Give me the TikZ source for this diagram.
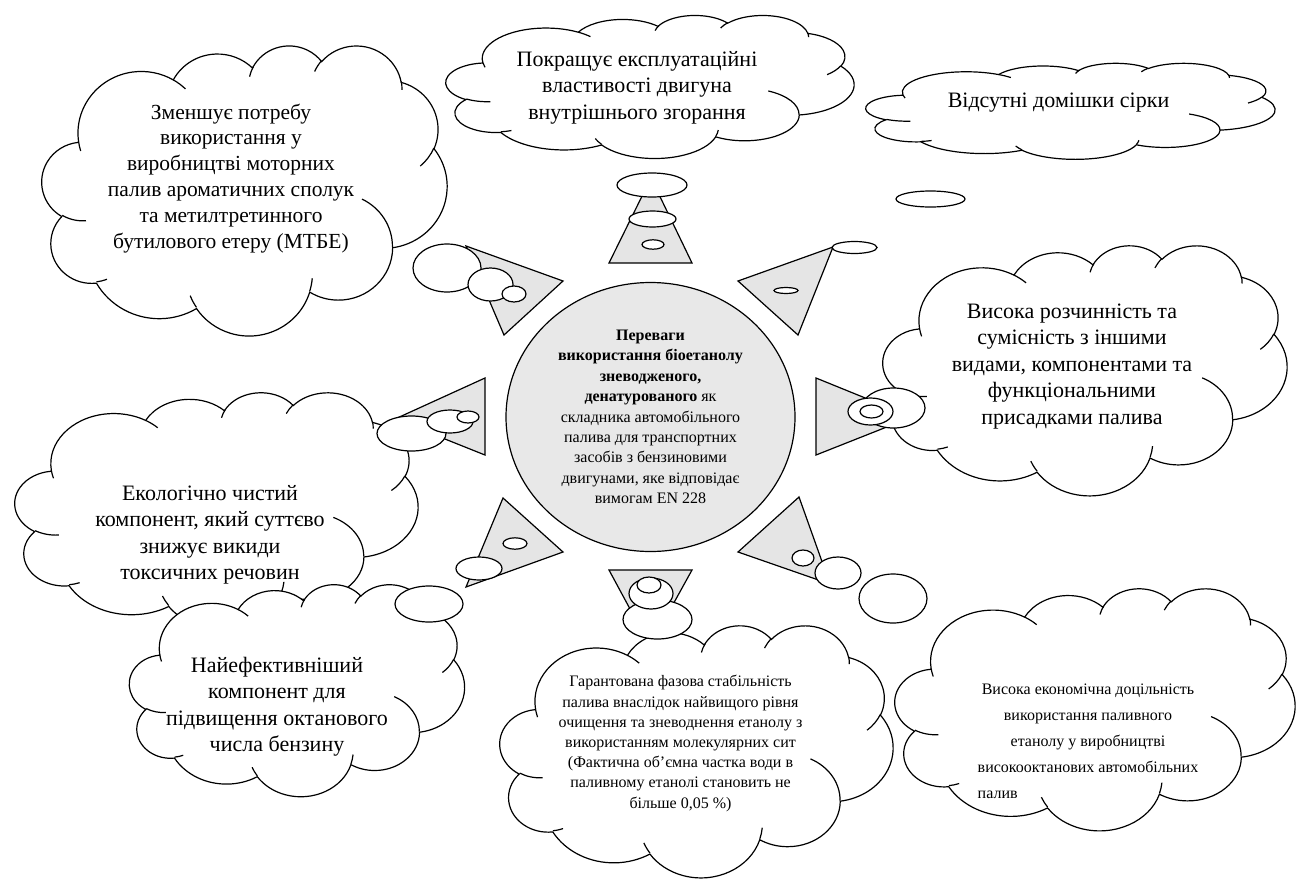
\documentclass[tikz,border=0pt]{standalone}
\usepackage{fontspec}
\setmainfont{Liberation Serif}
\usetikzlibrary{positioning,shapes.geometric}
\tikzset{x=1pt,y=-1pt}
\tikzset{
  cloudline/.style={line width=1.2pt},
  bubble/.style={draw,line width=1.2pt,fill=white},
  wedge/.style={draw,line width=1.2pt,fill=black!10,line join=miter},
  hub/.style={ellipse,draw,line width=1.2pt,fill=black!9,inner sep=0pt,
    minimum width=289pt,minimum height=269pt,align=center,
    font=\rmfamily\fontsize{16}{20.4}\selectfont},
  bigtext/.style={align=center,anchor=base,font=\rmfamily\fontsize{22}{26.5}\selectfont},
  smalltext/.style={align=center,anchor=base,font=\rmfamily\fontsize{16}{20.2}\selectfont},
  wcloud/.pic={
    \begin{scope}[shift={(-21.6,-21.6)}]
      \draw[cloudline,fill=white] (3.900,14.370)
        arc[start angle=172.25,delta angle=128.11,x radius=6.753,y radius=9.190]
        arc[start angle=-152.02,delta angle=106.56,x radius=5.333,y radius=7.267]
        arc[start angle=-153.49,delta angle=116.15,x radius=4.365,y radius=5.945]
        arc[start angle=-139.72,delta angle=129.51,x radius=4.857,y radius=6.595]
        arc[start angle=-74.77,delta angle=97.98,x radius=5.333,y radius=7.273]
        arc[start angle=-37.53,delta angle=119.39,x radius=6.775,y radius=9.220]
        arc[start angle=0.46,delta angle=121.52,x radius=5.785,y radius=7.867]
        arc[start angle=16.84,delta angle=129.38,x radius=6.752,y radius=9.215]
        arc[start angle=58.98,delta angle=91.20,x radius=7.720,y radius=10.543]
        arc[start angle=83.31,delta angle=139.78,x radius=4.360,y radius=5.918]
        arc[start angle=120.36,delta angle=143.75,x radius=4.345,y radius=5.945]
        -- cycle;
      \draw[cloudline]
        (4.693,26.177) arc[start angle=85.55,delta angle=34.81,x radius=4.345,y radius=5.945]
        (6.928,34.899) arc[start angle=68.23,delta angle=15.08,x radius=4.360,y radius=5.918]
        (16.478,39.090) arc[start angle=146.22,delta angle=12.25,x radius=6.752,y radius=9.215]
        (28.827,34.751) arc[start angle=4.74,delta angle=12.10,x radius=6.752,y radius=9.215]
        (34.129,22.954) arc[start angle=-64.03,delta angle=64.49,x radius=5.785,y radius=7.867]
        (41.798,15.354) arc[start angle=23.21,delta angle=26.44,x radius=5.333,y radius=7.273]
        (38.324,5.426) arc[start angle=-10.21,delta angle=11.03,x radius=4.857,y radius=6.595]
        (29.078,3.952) arc[start angle=-156.28,delta angle=16.56,x radius=4.857,y radius=6.595]
        (22.141,4.720) arc[start angle=-167.73,delta angle=15.38,x radius=4.365,y radius=5.945]
        (14.000,5.192) arc[start angle=-59.64,delta angle=13.90,x radius=6.753,y radius=9.190]
        (4.127,15.789) arc[start angle=163.19,delta angle=9.06,x radius=6.753,y radius=9.190];
    \end{scope}
  }
}

\begin{document}
\begin{tikzpicture}
  \useasboundingbox (0,0) rectangle (1303,881);

  \draw[wedge] (609,263) -- (692,263) -- (651,178) -- cycle;
  \draw[wedge] (466,246) -- (563,281) -- (504,335) -- cycle;
  \draw[wedge] (738,281) -- (833,247) -- (798,335) -- cycle;
  \draw[wedge] (485,378) -- (485,455) -- (395,419) -- cycle;
  \draw[wedge] (816,378) -- (816,455) -- (912,417) -- cycle;
  \draw[wedge] (503,498) -- (563,552) -- (466,587) -- cycle;
  \draw[wedge] (738,552) -- (799,497) -- (830,584) -- cycle;
  \draw[wedge] (609,570) -- (692,570) -- (650,646) -- cycle;

  \pic[xscale=408/43.2,yscale=143/43.2] (cloudA) at (650,86.5) {wcloud};
  \pic[xscale=409/43.2,yscale=96/43.2] (cloudB) at (1070.5,111) {wcloud};
  \pic[xscale=405/43.2,yscale=290/43.2] (cloudC) at (244.5,190) {wcloud};
  \pic[xscale=404/43.2,yscale=250/43.2] (cloudD) at (1085,370) {wcloud};
  \pic[xscale=403/43.2,yscale=236/43.2] (cloudE) at (216.5,510) {wcloud};
  \pic[xscale=335/43.2,yscale=212/43.2] (cloudF) at (297,690) {wcloud};
  \pic[xscale=393/43.2,yscale=252/43.2] (cloudG) at (696.5,751) {wcloud};
  \pic[xscale=400/43.2,yscale=242/43.2] (cloudH) at (1095,709) {wcloud};

  \draw[bubble] (652,185) ellipse [x radius=35,y radius=12];
  \draw[bubble] (652.5,219) ellipse [x radius=23.5,y radius=8];
  \draw[bubble] (653,244.5) ellipse [x radius=11,y radius=4.7];
  \draw[bubble] (447,268) ellipse [x radius=34,y radius=24];
  \draw[bubble] (490.5,284.5) ellipse [x radius=22.5,y radius=16.5];
  \draw[bubble] (514,294) ellipse [x radius=12,y radius=8];
  \draw[bubble] (930.5,199) ellipse [x radius=34.5,y radius=8];
  \draw[bubble] (854.5,247.5) ellipse [x radius=22.5,y radius=6];
  \draw[bubble] (786,290.5) ellipse [x radius=12,y radius=3];
  \draw[bubble] (411.5,433.5) ellipse [x radius=34.5,y radius=17.5];
  \draw[bubble] (450,421.5) ellipse [x radius=23,y radius=11.5];
  \draw[bubble] (468,417) ellipse [x radius=11,y radius=6];
  \draw[bubble] (893.5,408) ellipse [x radius=31.5,y radius=20];
  \draw[bubble] (870.5,411.5) ellipse [x radius=22.5,y radius=13.5];
  \draw[bubble] (871.5,411.5) ellipse [x radius=11.5,y radius=6.5];
  \draw[bubble] (429,604) ellipse [x radius=34,y radius=18];
  \draw[bubble] (479,568.5) ellipse [x radius=23,y radius=11.5];
  \draw[bubble] (515,543.5) ellipse [x radius=12,y radius=5.7];
  \draw[bubble] (893,598.5) ellipse [x radius=34,y radius=24.5];
  \draw[bubble] (838,573) ellipse [x radius=23,y radius=16];
  \draw[bubble] (803,558) ellipse [x radius=11,y radius=8];
  \draw[bubble] (657.5,619.5) ellipse [x radius=34.5,y radius=19.5];
  \draw[bubble] (651,593.5) ellipse [x radius=22,y radius=15.5];
  \draw[bubble] (649,585) ellipse [x radius=12,y radius=8];

  \node[hub] (hub) at (650.5,417) {\textbf{Переваги}\\
    \textbf{використання біоетанолу}\\
    \textbf{зневодженого,}\\
    \textbf{денатурованого} як\\
    складника автомобільного\\
    палива для транспортних\\
    засобів з бензиновими\\
    двигунами, яке відповідає\\
    вимогам EN 228};

  \node[bigtext] (engine) at (637,119) {Покращує експлуатаційні\\властивості двигуна\\внутрішнього згорання};
  \node[bigtext] (sulfur) at (1058.5,107) {Відсутні домішки сірки};
  \node[bigtext,font=\rmfamily\fontsize{21.5}{25.8}\selectfont] (aromatics) at (231,248) {Зменшує потребу\\використання у\\виробництві моторних\\палив ароматичних сполук\\та метилтретинного\\бутилового етеру (МТБЕ)};
  \node[bigtext] (solubility) at (1072,424) {Висока розчинність та\\сумісність з іншими\\видами, компонентами та\\функціональними\\присадками палива};
  \node[bigtext] (ecology) at (210,579.5) {Екологічно чистий\\компонент, який суттєво\\знижує викиди\\токсичних речовин};
  \node[bigtext] (octane) at (277,751.5) {Найефективніший\\компонент для\\підвищення октанового\\числа бензину};
  \node[smalltext] (stability) at (680.5,808) {Гарантована фазова стабільність\\палива внаслідок найвищого рівня\\очищення та зневоднення етанолу з\\використанням молекулярних сит\\(Фактична об’ємна частка води в\\паливному етанолі становить не\\більше 0,05 \%)};
  \node[smalltext,font=\rmfamily\fontsize{16}{26}\selectfont] (economy) at (1088,798) {Висока економічна доцільність\\використання паливного\\етанолу у виробництві\\високооктанових автомобільних\\\rlap{палив}\phantom{високооктанових автомобільних}};
\end{tikzpicture}
\end{document}
